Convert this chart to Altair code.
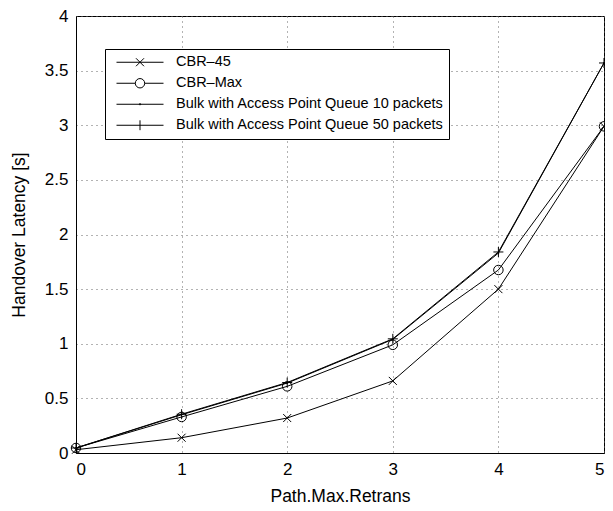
import altair as alt
import pandas as pd

# ---- data ----
x_vals = [0, 1, 2, 3, 4, 5]
series = [
    "CBR–45",
    "CBR–Max",
    "Bulk with Access Point Queue 10 packets",
    "Bulk with Access Point Queue 50 packets",
]
cbr45 = [0.03, 0.14, 0.32, 0.66, 1.50, 2.99]
cbrmax = [0.046, 0.33, 0.61, 0.99, 1.675, 2.99]
bulk10 = [0.046, 0.35, 0.64, 1.04, 1.83, 3.57]
bulk50 = [0.046, 0.355, 0.645, 1.045, 1.84, 3.57]

x_ticks = [0, 1, 2, 3, 4, 5]
y_ticks = [0, 0.5, 1, 1.5, 2, 2.5, 3, 3.5, 4]

# marker styles (plot) and legend symbols (line + marker)
marker_shapes = [
    "M-0.8,-0.8L0.8,0.8M-0.8,0.8L0.8,-0.8",
    "M-0.95,0A0.95,0.95,0,1,1,0.95,0A0.95,0.95,0,1,1,-0.95,0",
    "M-0.12,0A0.12,0.12,0,1,1,0.12,0A0.12,0.12,0,1,1,-0.12,0",
    "M-1,0H1M0,-1V1",
]
legend_shapes = [
    "M-1,0H1M-0.17,-0.17L0.17,0.17M-0.17,0.17L0.17,-0.17",
    "M-1,0H-0.2M0.2,0H1M-0.2,0A0.2,0.2,0,1,1,0.2,0A0.2,0.2,0,1,1,-0.2,0",
    "M-1,0H1M-0.03,0A0.03,0.03,0,1,1,0.03,0A0.03,0.03,0,1,1,-0.03,0",
    "M-1,0H1M0,-0.21V0.21",
]

rows = []
for name, vals in zip(series, [cbr45, cbrmax, bulk10, bulk50]):
    for xv, yv in zip(x_vals, vals):
        rows.append({"x": xv, "y": yv, "series": name})
df = pd.DataFrame(rows)

FONT = "Liberation Sans"

x_enc = alt.X(
    "x:Q",
    scale=alt.Scale(domain=[0, 5], nice=False),
    axis=alt.Axis(values=x_ticks, format="d", title="Path.Max.Retrans"),
)
y_enc = alt.Y(
    "y:Q",
    scale=alt.Scale(domain=[0, 4], nice=False),
    axis=alt.Axis(values=y_ticks, format="~g", title="Handover Latency [s]"),
)

base = alt.Chart(df)

lines = base.mark_line(color="black", strokeWidth=1).encode(
    x=x_enc, y=y_enc, detail="series:N"
)

markers = base.mark_point(
    filled=False, color="black", strokeWidth=1, opacity=1, size=100
).encode(
    x=x_enc,
    y=y_enc,
    shape=alt.Shape("series:N", scale=alt.Scale(domain=series, range=marker_shapes), legend=None),
)

legend_layer = base.transform_filter("false").mark_point(
    filled=False, color="black", strokeWidth=1, opacity=1
).encode(
    x=x_enc,
    y=y_enc,
    shape=alt.Shape(
        "series:N",
        scale=alt.Scale(domain=series, range=legend_shapes),
        legend=alt.Legend(
            orient="none",
            legendX=29,
            legendY=33,
            title=None,
            padding=5,
            strokeColor="black",
            fillColor="white",
            labelFont=FONT,
            labelFontSize=14.5,
            labelColor="black",
            labelLimit=0,
            labelOffset=12,
            symbolOffset=6,
            symbolSize=2209,
            clipHeight=16.5,
            rowPadding=4,
            symbolStrokeWidth=1,
            symbolStrokeColor="black",
        ),
    ),
)

chart = (
    alt.layer(lines, markers, legend_layer)
    .resolve_scale(shape="independent")
    .properties(
        width=528,
        height=437,
        autosize=alt.AutoSizeParams(type="none"),
        padding={"left": 68, "top": 8, "right": 1, "bottom": 52},
        background="white",
    )
    .configure_view(stroke="black", strokeWidth=1)
    .configure_axis(
        labelFont=FONT,
        labelFontSize=17,
        labelColor="black",
        titleFont=FONT,
        titleFontSize=17.5,
        titleFontWeight="normal",
        titleColor="black",
        domainColor="black",
        domainWidth=1,
        ticks=False,
        labelPadding=8,
        gridColor="#666666",
        gridDash=[1, 4],
        gridWidth=1,
        gridOpacity=1,
    )
    .configure_axisX(titlePadding=10, labelFlush=True)
    .configure_axisY(titlePadding=16)
)

chart.save("out.html", embed_options={"renderer": "svg", "actions": False})
